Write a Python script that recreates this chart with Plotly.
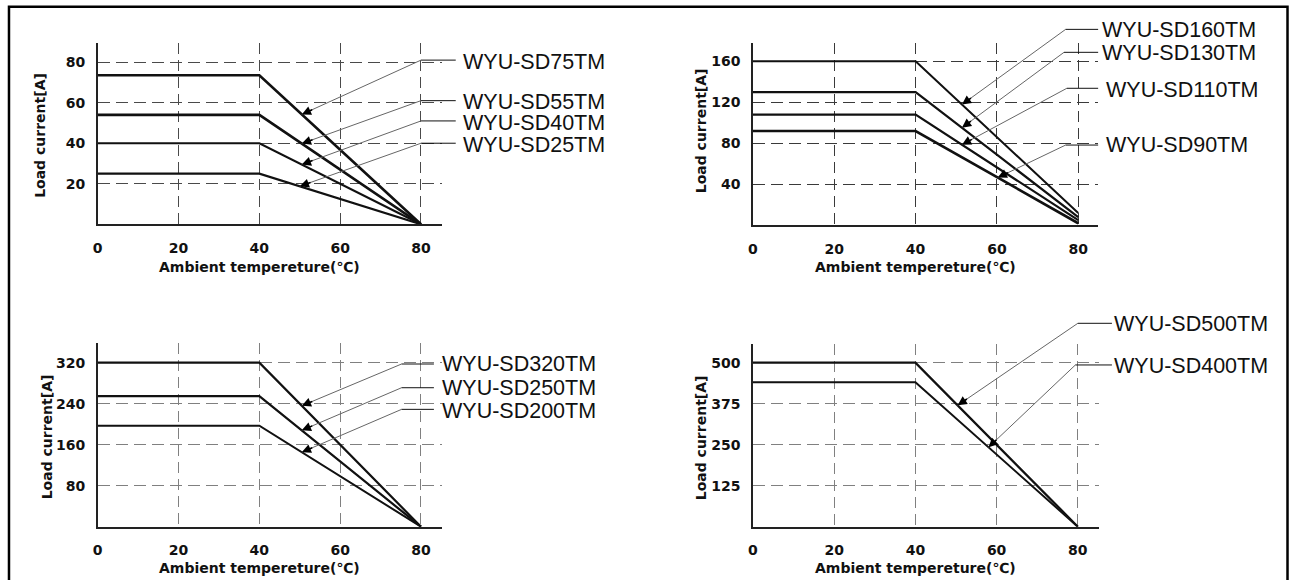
import numpy as np
import plotly.graph_objects as go

# ---------------- data ----------------
temp = [0, 40, 80]
x_ticks = [0, 20, 40, 60, 80]
x_title = "Ambient tempereture(℃)"
y_title = "Load current[A]"

tl_names = ["WYU-SD75TM", "WYU-SD55TM", "WYU-SD40TM", "WYU-SD25TM"]
tl_current = [[73.5, 73.5, 0], [54, 54, 0], [40, 40, 0], [25, 25, 0]]
tl_yticks = [20, 40, 60, 80]

tr_names = ["WYU-SD160TM", "WYU-SD130TM", "WYU-SD110TM", "WYU-SD90TM"]
tr_current = [[160, 160, 12], [130, 130, 8], [108, 108, 5], [92, 92, 2]]
tr_yticks = [40, 80, 120, 160]

bl_names = ["WYU-SD320TM", "WYU-SD250TM", "WYU-SD200TM"]
bl_current = [[320, 320, 0], [255, 255, 0], [197, 197, 0]]
bl_yticks = [80, 160, 240, 320]

br_names = ["WYU-SD500TM", "WYU-SD400TM"]
br_current = [[500, 500, 0], [440, 440, 0]]
br_yticks = [125, 250, 375, 500]

# ---------------- layout ----------------
W, H = 1289, 580
panels = [
    dict(names=tl_names, cur=tl_current, yt=tl_yticks,
         px=(93.1, 438.7), py=(43.3, 224.3), xr=85.2, yr=89.3, grid="#4a4a4a",
         ytitle=(35, 135), xtitle=267, widths=[2.6, 2.6, 2.1, 2.1],
         tip_x=[50.5, 50.5, 50.5, 50.0], elbow_x=[80, 80, 80, 80], elbow_y=[81, 61, 51, 40],
         stub_x=88.6, text_x=[91.0] * 4, text_y=[80.2, 60.3, 50.0, 39.0]),
    dict(names=tr_names, cur=tr_current, yt=tr_yticks,
         px=(750.9, 1097.4), py=(43.3, 225.3), xr=84.9, yr=177.6, grid="#3a3a3a",
         ytitle=(699, 131), xtitle=267, widths=[2.0, 2.2, 2.2, 2.6],
         tip_x=[51.4, 51.4, 51.4, 60.2], elbow_x=[76.9, 76.5, 77.2, 76.9],
         elbow_y=[191.2, 168.8, 133.7, 78.3],
         stub_x=84.9, text_x=[86.4, 86.4, 87.4, 87.4], text_y=[190.9, 167.8, 132.0, 78.3]),
    dict(names=bl_names, cur=bl_current, yt=bl_yticks,
         px=(93.1, 438.7), py=(343.3, 526.7), xr=85.2, yr=357.9, grid="#808080",
         ytitle=(42, 436.5), xtitle=568.3, widths=[2.2, 2.2, 2.0],
         tip_x=[50.5, 50.5, 50.5], elbow_x=[75.2, 75.2, 75.2], elbow_y=[317.5, 271.2, 229.0],
         stub_x=83.2, text_x=[85.7] * 3, text_y=[317.5, 270.0, 226.0]),
    dict(names=br_names, cur=br_current, yt=br_yticks,
         px=(750.9, 1098.2), py=(344.3, 526.7), xr=85.2, yr=556.0, grid="#808080",
         ytitle=(699, 438), xtitle=568.3, widths=[2.3, 2.0],
         tip_x=[50.4, 58.0], elbow_x=[80, 79.4], elbow_y=[620, 493],
         stub_x=88.4, text_x=[89.4, 89.4], text_y=[617, 490]),
]

tick_font = dict(family="DejaVu Sans", size=14, color="#111111", weight="bold")
title_font_x = dict(family="DejaVu Sans", size=14, color="#111111", weight="bold")
title_font_y = dict(family="DejaVu Sans", size=14, color="#111111", weight="bold")
label_font = dict(family="Liberation Sans, Arial", size=21.5, color="#111111")

fig = go.Figure()
annotations = []
shapes = []
layout = dict(width=W, height=H, margin=dict(l=0, r=0, t=0, b=0),
              paper_bgcolor="white", plot_bgcolor="white", showlegend=False)

for i, p in enumerate(panels):
    k = "" if i == 0 else str(i + 1)
    xa, ya = "x" + k, "y" + k
    xdom = [p["px"][0] / W, p["px"][1] / W]
    ydom = [1 - p["py"][1] / H, 1 - p["py"][0] / H]
    layout["xaxis" + k] = dict(
        domain=xdom, range=[0, p["xr"]], tickvals=x_ticks, ticks="outside", ticklen=10,
        tickcolor="rgba(0,0,0,0)", tickfont=tick_font, showline=True, linecolor="#222222",
        linewidth=1.5, showgrid=True, gridcolor=p["grid"], gridwidth=1, griddash="11px,6px",
        zeroline=False, anchor=ya, fixedrange=True)
    layout["yaxis" + k] = dict(
        domain=ydom, range=[0, p["yr"]], tickvals=p["yt"], ticks="outside", ticklen=8,
        tickcolor="rgba(0,0,0,0)", tickfont=tick_font, showline=True, linecolor="#222222",
        linewidth=1.5, showgrid=True, gridcolor=p["grid"], gridwidth=1, griddash="12px,6px",
        zeroline=False, anchor=xa, fixedrange=True)

    for name, cur, w in zip(p["names"], p["cur"], p["widths"]):
        fig.add_trace(go.Scatter(x=temp, y=cur, mode="lines", name=name,
                                 line=dict(color="#111111", width=w),
                                 xaxis=xa, yaxis=ya, hoverinfo="skip"))

    sx = (p["px"][1] - p["px"][0]) / p["xr"]
    sy = (p["py"][1] - p["py"][0]) / p["yr"]

    def to_paper(x, y, p=p, sx=sx, sy=sy):
        return (p["px"][0] + x * sx) / W, 1 - (p["py"][1] - y * sy) / H

    for j, name in enumerate(p["names"]):
        tx = p["tip_x"][j]
        ty = float(np.interp(tx, temp, p["cur"][j]))
        ex, ey = p["elbow_x"][j], p["elbow_y"][j]
        tpx, tpy = to_paper(tx, ty)
        epx, epy = to_paper(ex, ey)
        spx, _ = to_paper(p["stub_x"], ey)
        # gray leader line elbow -> tip
        shapes.append(dict(type="line", xref="paper", yref="paper", x0=epx, y0=epy,
                           x1=tpx, y1=tpy, line=dict(color="#666666", width=1)))
        # horizontal stub
        shapes.append(dict(type="line", xref="paper", yref="paper", x0=epx, y0=epy,
                           x1=spx, y1=epy, line=dict(color="#111111", width=1)))
        # black arrow head at tip
        dxp, dyp = (ex - tx) * sx, -(ey - ty) * sy
        n = np.hypot(dxp, dyp)
        annotations.append(dict(x=tx, y=ty, xref=xa, yref=ya,
                                ax=dxp / n * 13, ay=dyp / n * 13, text="",
                                showarrow=True, arrowhead=2, arrowsize=1.15,
                                arrowwidth=1.6, arrowcolor="#000000"))
        # label text
        lx, ly = to_paper(p["text_x"][j], p["text_y"][j])
        annotations.append(dict(x=lx, y=ly, xref="paper", yref="paper", xshift=-4,
                                text=name, showarrow=False, xanchor="left",
                                yanchor="middle", font=label_font))

    # axis titles
    annotations.append(dict(x=40, y=1 - p["xtitle"] / H, xref=xa, yref="paper",
                            text=x_title, showarrow=False, xanchor="center",
                            yanchor="middle", font=title_font_x))
    annotations.append(dict(x=p["ytitle"][0] / W, y=1 - p["ytitle"][1] / H, xref="paper",
                            yref="paper", text=y_title, showarrow=False, textangle=-90,
                            xanchor="center", yanchor="middle", font=title_font_y))

shapes.append(dict(type="rect", xref="paper", yref="paper",
                   x0=4 / W, x1=1287.5 / W, y0=-0.02, y1=1 - 6.7 / H,
                   line=dict(color="#000000", width=2.5)))
layout["annotations"] = annotations
layout["shapes"] = shapes
fig.update_layout(**layout)
fig.write_html("out.html", config={"displayModeBar": False},
               post_script="document.body.style.margin='0';document.body.style.overflow='hidden';")
